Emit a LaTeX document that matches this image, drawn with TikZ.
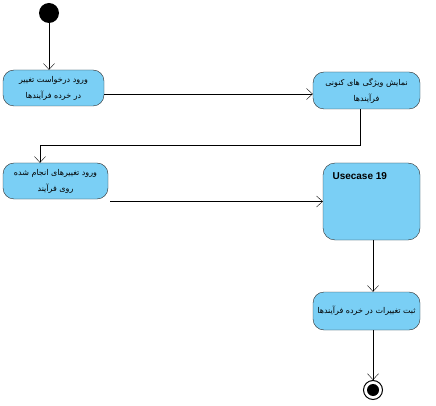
\documentclass[tikz,border=0pt]{standalone}
\usepackage{fontspec}
\usetikzlibrary{arrows.meta,positioning}
\TeXXeTstate=1
\newfontfamily\fafont[Script=Arabic]{DejaVu Sans}
\newfontfamily\lsans{Liberation Sans}
\newcommand{\rtl}[1]{\beginR #1\endR}
\definecolor{actfill}{RGB}{122,207,245}
\definecolor{actline}{RGB}{45,45,45}
\begin{document}
\begin{tikzpicture}[x=1pt, y=-1pt,
    actbox/.style={draw=actline, fill=actfill, rounded corners=11pt, align=center, font=\fafont\fontsize{8}{16}\selectfont, inner sep=0pt},
    flow/.style={draw=black, -{Straight Barb[length=6pt,width=11pt]}}]
    \useasboundingbox (0,0) rectangle (436,406);

    \node(start)[circle, fill=black, minimum size=20pt, inner sep=0pt] at (49,13) {};
    \node(request)[actbox, minimum width=101pt, minimum height=36pt] at (53.5,88) {\rtl{ورود درخواست  تغییر}\\\rtl{در خرده فرآیندها}};
    \node(props)[actbox, minimum width=107pt, minimum height=37pt] at (366.5,90.5) {\rtl{نمایش ویژگی های کنونی}\\\rtl{فرآیندها}};
    \node(changes)[actbox, minimum width=105pt, minimum height=36pt] at (55.5,181) {\rtl{ورود تغییرهای انجام شده}\\\rtl{روی فرآیند}};
    \node(usecase)[actbox, rounded corners=12pt, minimum width=97pt, minimum height=77pt] at (371.5,201.5) {};
    \node(usetitle)[draw=none, font=\lsans\bfseries\fontsize{10}{12}\selectfont, anchor=north west] at (329,169) {Usecase 19};
    \node(record)[actbox, minimum width=107pt, minimum height=38pt] at (366.5,311) {\rtl{ثبت تغییرات در  خرده فرآیندها}};
    \node(final)[circle, draw=black, line width=1pt, minimum size=19pt, inner sep=0pt] at (373,390) {};
    \node(finaldot)[circle, fill=black, minimum size=12pt, inner sep=0pt] at (final.center) {};

    \draw[flow] (start) -- (start |- request.north);
    \draw[flow] ([yshift=-6pt]request.east) -- ([yshift=-6pt]request.east -| props.west);
    \draw[flow] ([xshift=-6.5pt]props.south) -- ++(0,36) -| ([xshift=-15.5pt]changes.north);
    \draw[flow] ([xshift=2pt]changes.east |- usecase.west) -- (usecase.west);
    \draw[flow] ([xshift=1.5pt]usecase.south) -- ([xshift=1.5pt]usecase.south |- record.north);
    \draw[flow] (record.south -| final) -- (final);
\end{tikzpicture}
\end{document}
